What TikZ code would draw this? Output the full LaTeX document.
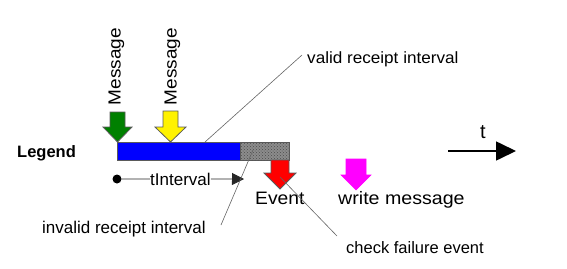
\documentclass[tikz,border=0pt]{standalone}
\usepackage{fontspec}
\setmainfont{Liberation Sans}
\usetikzlibrary{patterns,arrows.meta}
\definecolor{msggreen}{RGB}{0,128,0}
\definecolor{msgmagenta}{RGB}{255,0,255}
\definecolor{edgegray}{RGB}{90,90,90}
\definecolor{leadergray}{RGB}{100,100,100}
\definecolor{hatchgray}{RGB}{140,140,140}
\begin{document}
\begin{tikzpicture}[x=1pt,y=-1pt,
  label/.style={inner sep=0pt, anchor=base west},
  blockarrow/.style={draw=edgegray, line width=0.8pt, line join=miter},
  leader/.style={draw=leadergray, line width=0.6pt},
  sz/.style={font=\fontsize{#1}{#1}\selectfont}]
\useasboundingbox (0,0) rectangle (567,268);

% legend caption
\node[label, font=\bfseries\fontsize{16.5}{16.5}\selectfont] (legend) at (17,157) {Legend};

% the receipt interval bar: valid part and the late, hatched part
\node[draw=edgegray, line width=0.8pt, fill=blue, inner sep=0pt, anchor=north west,
      minimum width=123pt, minimum height=18pt] (validbar) at (117,142) {};
\node[draw=edgegray, line width=0.8pt, fill=hatchgray, inner sep=0pt, anchor=north west,
      minimum width=49pt, minimum height=18pt,
      postaction={pattern=crosshatch dots, pattern color=black!70}] (latebar) at (240,142) {};

% incoming messages
\draw[blockarrow, fill=msggreen] (110,112) -- (125,112) -- (125,127) -- (132,127)
  -- (117.5,142) -- (103,127) -- (110,127) -- cycle;
\draw[blockarrow, fill=yellow] (163,111) -- (178,111) -- (178,127) -- (186,127)
  -- (170.5,142) -- (155,127) -- (163,127) -- cycle;
\node[sz=17.5, inner sep=0pt, rotate=90] (msgA) at (116.5,66.5) {\scalebox{1.085}[1]{Message}};
\node[sz=17.5, inner sep=0pt, rotate=90] (msgB) at (172.5,66.5) {\scalebox{1.085}[1]{Message}};

% failure event and write message
\draw[blockarrow, fill=red] (271,160) -- (289,160) -- (289,173) -- (296,173)
  -- (280,189) -- (264,173) -- (271,173) -- cycle;
\node[label, sz=18] (event) at (255,204) {\scalebox{1.07}[1]{Event}};
\draw[draw=msgmagenta, line width=0.6pt, fill=msgmagenta] (346,159) -- (366,159) -- (366,175) -- (371,175)
  -- (356,190) -- (341,175) -- (346,175) -- cycle;
\node[label, sz=18] (write) at (338,204) {\scalebox{1.09}[1]{write message}};

% tInterval span
\node[circle, fill=black, inner sep=0pt, minimum size=9pt] (tstart) at (117,179) {};
\node[label, sz=17] (tint) at (150,185) {tInterval};
\coordinate (tstop) at (244,179);
\draw[black!85, line width=0.8pt] (tstart) -- (tint.west);
\draw[black!85, line width=0.8pt, -{Triangle[length=12pt,width=12pt]}] (tint.east) -- (tstop);

% time axis
\coordinate (axisA) at (448,151);
\coordinate (axisB) at (516,151);
\draw[line width=1.6pt, -{Triangle[length=20pt,width=19pt]}] (axisA) -- (axisB);
\node[label, sz=20] (tlabel) at (480,138) {t};

% annotations with leader lines
\node[label, sz=16.3] (validtxt) at (307,63) {\scalebox{1.05}[1]{valid receipt interval}};
\node[label, sz=17] (invalidtxt) at (42,233) {invalid receipt interval};
\node[label, sz=16.5] (checktxt) at (346,253) {check failure event};
\coordinate (validpt) at (205,142);
\coordinate (validend) at (302,55);
\coordinate (latept) at (253,150);
\coordinate (invalidend) at (221,225);
\coordinate (eventpt) at (280,177);
\coordinate (checkend) at (337,236);
\draw[leader] (validpt) -- (validend);
\draw[leader] (latept) -- (invalidend);
\draw[leader] (eventpt) -- (checkend);
\end{tikzpicture}
\end{document}
